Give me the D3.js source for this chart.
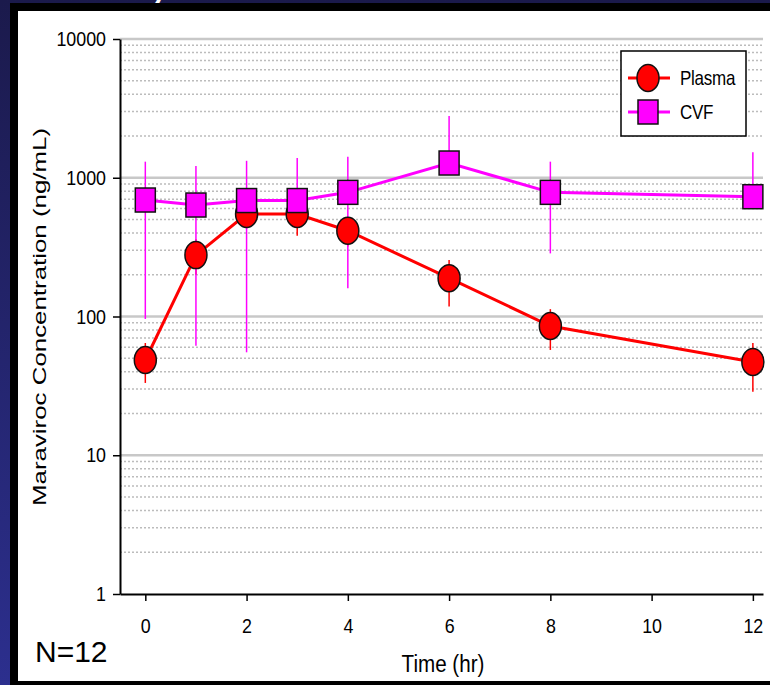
<!DOCTYPE html>
<html>
<head>
<meta charset="utf-8">
<script src="https://cdn.jsdelivr.net/npm/d3@7"></script>
<style>
  body { margin: 0; background: #1c1b4e; }
  svg { display: block; font-family: "Liberation Sans", Arial, sans-serif; }
</style>
</head>
<body>
<div class="chart"></div>
<script>
const times = [0, 1, 2, 3, 4, 6, 8, 12]
const plasmaMean = [48.6, 277, 548, 548, 415, 189, 85.4, 47]
const plasmaLow = [33.2, 200, 430, 382, 320, 118, 57.4, 28.7]
const plasmaHigh = [64.4, 360, 670, 710, 520, 255, 113, 64.4]
const cvfMean = [691, 636, 685, 685, 785, 1277, 785, 730]
const cvfLow = [96, 61.6, 55.2, null, 160, null, 285, null]
const cvfHigh = [1306, 1216, 1325, 1387, 1419, 2786, 1306, 1525]
const xTicks = [0, 2, 4, 6, 8, 10, 12]
const yTicks = [1, 10, 100, 1000, 10000]

let width = 770, height = 685
let sx = 0.85  // the slide squeezed text sideways

let svg = d3.select(".chart")
.append("svg")
.attr("width", width)
.attr("height", height)

// slide background + frame
let grad = svg.append("defs").append("linearGradient")
.attr("id", "bg").attr("x1", 0).attr("y1", 0).attr("x2", 0).attr("y2", 1)
grad.append("stop").attr("offset", "0%").attr("stop-color", "#1b1a4c")
grad.append("stop").attr("offset", "100%").attr("stop-color", "#2c2f8e")

svg.append("rect").attr("width", width).attr("height", height).attr("fill", "url(#bg)")

svg.append("text")
.attr("x", 28).attr("y", 0)
.style("font-size", "40px")
.attr("fill", "#fff")
.attr("textLength", 262)
.attr("lengthAdjust", "spacingAndGlyphs")
.text("Steady State")

svg.append("rect").attr("x", 10).attr("y", 3).attr("width", width - 10).attr("height", height - 3).attr("fill", "#000")
svg.append("rect").attr("x", 18).attr("y", 11).attr("width", width - 18).attr("height", 670).attr("fill", "#fff")

let x = d3.scaleLinear().domain([-0.5, 12.2]).range([120, 763])
let y = d3.scaleLog().domain([1, 10000]).range([594, 39])

// grid
let minors = []
yTicks.slice(0, -1).forEach(d => d3.range(2, 10).forEach(m => minors.push(d * m)))

svg.append("g")
.selectAll("line")
.data(minors)
.enter()
.append("line")
.attr("x1", x(-0.5)).attr("x2", x(12.2))
.attr("y1", d => y(d)).attr("y2", d => y(d))
.attr("stroke", "#bcbcbc")
.attr("stroke-width", 1.5)
.attr("stroke-dasharray", "2,2")

svg.append("g")
.selectAll("line")
.data(yTicks.slice(1))
.enter()
.append("line")
.attr("x1", x(-0.5)).attr("x2", x(12.2))
.attr("y1", d => y(d)).attr("y2", d => y(d))
.attr("stroke", "#c8c8c8")
.attr("stroke-width", 2.5)

// axes
let xAxis = svg.append("g")
.attr("transform", `translate(0,${y(1)})`)
.call(d3.axisBottom(x).tickValues(xTicks).tickSize(7).tickPadding(17).tickSizeOuter(0))

let yAxis = svg.append("g")
.attr("transform", `translate(${x(-0.5)},0)`)
.call(d3.axisLeft(y).tickValues(yTicks).tickFormat(d3.format("d")).tickSize(7).tickPadding(7).tickSizeOuter(0))

svg.selectAll(".domain").attr("stroke", "#000").attr("stroke-width", 2)
svg.selectAll(".tick line").attr("stroke", "#000").attr("stroke-width", 1.5)
svg.selectAll(".tick text")
.style("font-family", "'Liberation Sans', Arial, sans-serif")
.style("font-size", "21px")
.attr("fill", "#000")
.attr("transform", `scale(${sx},1)`)
yAxis.selectAll(".tick text").attr("x", -14 / sx)

// error bars
function bars(low, high, mean, color) {
  svg.append("g")
  .selectAll("line")
  .data(times)
  .enter()
  .append("line")
  .attr("x1", d => x(d)).attr("x2", d => x(d))
  .attr("y1", (d, i) => y(high[i]))
  .attr("y2", (d, i) => low[i] == null ? y(mean[i]) : y(low[i]))
  .attr("stroke", color)
  .attr("stroke-width", 1.5)
}
bars(plasmaLow, plasmaHigh, plasmaMean, "#ff0000")
bars(cvfLow, cvfHigh, cvfMean, "#ff00ff")

let line = d3.line().x(d => x(d[0])).y(d => y(d[1]))

svg.append("path")
.datum(times.map((t, i) => [t, plasmaMean[i]]))
.attr("d", line)
.attr("fill", "none")
.attr("stroke", "#ff0000")
.attr("stroke-width", 3)

svg.append("path")
.datum(times.map((t, i) => [t, cvfMean[i]]))
.attr("d", line)
.attr("fill", "none")
.attr("stroke", "#ff00ff")
.attr("stroke-width", 3)

svg.append("g")
.selectAll("ellipse")
.data(times)
.enter()
.append("ellipse")
.attr("cx", d => x(d))
.attr("cy", (d, i) => y(plasmaMean[i]))
.attr("rx", 11).attr("ry", 13.5)
.attr("fill", "#ff0000")
.attr("stroke", "#111")
.attr("stroke-width", 1.5)

svg.append("g")
.selectAll("rect")
.data(times)
.enter()
.append("rect")
.attr("x", d => x(d) - 10)
.attr("y", (d, i) => y(cvfMean[i]) - 12)
.attr("width", 20).attr("height", 24)
.attr("fill", "#ff00ff")
.attr("stroke", "#111")
.attr("stroke-width", 1.5)

// legend
let legend = svg.append("g").attr("transform", "translate(621,51)")
legend.append("rect").attr("width", 125).attr("height", 85)
.attr("fill", "#fff").attr("stroke", "#000").attr("stroke-width", 1.5)

legend.append("line").attr("x1", 7).attr("x2", 49).attr("y1", 27).attr("y2", 27)
.attr("stroke", "#ff0000").attr("stroke-width", 3)
legend.append("ellipse").attr("cx", 27).attr("cy", 27).attr("rx", 11).attr("ry", 13.5)
.attr("fill", "#ff0000").attr("stroke", "#111").attr("stroke-width", 1.5)

legend.append("line").attr("x1", 7).attr("x2", 49).attr("y1", 61).attr("y2", 61)
.attr("stroke", "#ff00ff").attr("stroke-width", 3)
legend.append("rect").attr("x", 17).attr("y", 49).attr("width", 20).attr("height", 24)
.attr("fill", "#ff00ff").attr("stroke", "#111").attr("stroke-width", 1.5)

function label(g, px, py, txt, fs, anchor, scale) {
  return g.append("text")
  .attr("transform", `translate(${px},${py}) scale(${scale},1)`)
  .style("font-size", fs + "px")
  .attr("text-anchor", anchor)
  .attr("fill", "#000")
  .text(txt)
}

label(legend, 59, 34, "Plasma", 20, "start", 0.85).attr("letter-spacing", -0.3)
label(legend, 59, 68, "CVF", 20, "start", 0.85).attr("letter-spacing", -0.3)

// titles
label(svg, 443, 672, "Time (hr)", 24, "middle", 0.86)
label(svg, 35, 662, "N=12", 30, "start", 1)

svg.append("text")
.attr("transform", "translate(46,317) rotate(-90)")
.style("font-size", "19px")
.attr("text-anchor", "middle")
.attr("textLength", 378)
.attr("lengthAdjust", "spacingAndGlyphs")
.attr("fill", "#000")
.text("Maraviroc Concentration (ng/mL)")
</script>
</body>
</html>
